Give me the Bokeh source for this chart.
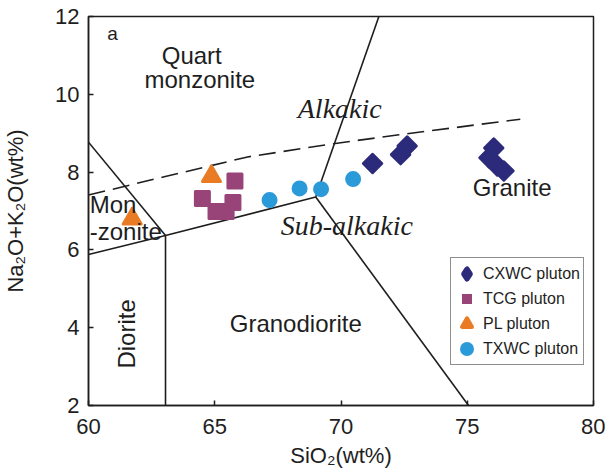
import numpy as np
from bokeh.plotting import figure
from bokeh.models import Label, Legend, LegendItem, FixedTicker, Range1d
from bokeh.embed import file_html
from bokeh.resources import INLINE

# ---------------- data ----------------
cxwc_x = [71.25, 72.36, 72.62, 76.05, 75.86, 76.19, 76.45]
cxwc_y = [8.22, 8.45, 8.67, 8.62, 8.37, 8.16, 8.03]

tcg_x = [64.51, 65.05, 65.45, 65.72, 65.80]
tcg_y = [7.32, 6.99, 6.99, 7.22, 7.77]

pl_x = [61.73, 64.87]
pl_y = [6.80, 7.89]

txwc_x = [67.17, 68.36, 69.21, 70.48]
txwc_y = [7.28, 7.58, 7.56, 7.82]

# classification boundaries
b_monz_x = [60.0, 63.05]
b_monz_y = [8.77, 6.37]
b_low_x = [60.0, 63.05, 69.0]
b_low_y = [5.88, 6.37, 7.36]
b_vert_x = [63.05, 63.05]
b_vert_y = [6.37, 2.0]
b_gd_x = [69.0, 75.05]
b_gd_y = [7.36, 2.0]
b_gr_x = [69.0, 71.5]
b_gr_y = [7.36, 12.0]
alk_x = [60.0, 63.0, 66.3, 69.7, 72.3, 77.1]
alk_y = [7.41, 7.88, 8.39, 8.73, 8.96, 9.36]

x_ticks = [60, 65, 70, 75, 80]
y_ticks = [2, 4, 6, 8, 10, 12]

SANS = "Liberation Sans"
SERIF = "Liberation Serif"
INK = "#1e1e1e"
C_CX, C_TC, C_PL, C_TX = "#2c2a7a", "#984479", "#e97b24", "#2b9ad9"

p = figure(width=605, height=470, output_backend="svg", toolbar_location=None,
           x_range=Range1d(60, 80), y_range=Range1d(2, 12),
           min_border_left=88, min_border_right=12, min_border_top=16, min_border_bottom=62)

p.xgrid.visible = False
p.ygrid.visible = False
p.outline_line_color = INK
p.outline_line_width = 1.5
p.background_fill_color = "white"
p.border_fill_color = "white"

for ax in (p.xaxis[0], p.yaxis[0]):
    ax.major_tick_in = 5
    ax.major_tick_out = 0
    ax.minor_tick_line_color = None
    ax.axis_line_color = INK
    ax.axis_line_width = 1.5
    ax.major_tick_line_color = INK
    ax.major_tick_line_width = 1.5
    ax.major_label_text_font = SANS
    ax.major_label_text_font_size = "22px"
    ax.major_label_text_color = INK
    ax.axis_label_text_font = SANS
    ax.axis_label_text_font_size = "22px"
    ax.axis_label_text_font_style = "normal"
    ax.axis_label_text_color = INK

p.xaxis.ticker = FixedTicker(ticks=x_ticks)
p.yaxis.ticker = FixedTicker(ticks=y_ticks)
p.xaxis.axis_label = "SiO₂(wt%)"
p.yaxis.axis_label = "Na₂O+K₂O(wt%)"
p.xaxis.major_label_standoff = 13
p.xaxis.axis_label_standoff = 6
p.yaxis.major_label_standoff = 9
p.yaxis.axis_label_standoff = 24

# boundaries
for bx, by in [(b_monz_x, b_monz_y), (b_low_x, b_low_y), (b_vert_x, b_vert_y),
               (b_gd_x, b_gd_y), (b_gr_x, b_gr_y)]:
    p.line(bx, by, line_color=INK, line_width=1.6)
p.line(alk_x, alk_y, line_color=INK, line_width=1.6, line_dash="17 8")

# data points
r_cx = p.scatter(cxwc_x, cxwc_y, marker="square", angle=np.pi / 4, size=13,
                 fill_color=C_CX, line_color=C_CX, line_width=3, line_join="round")
r_tc = p.scatter(tcg_x, tcg_y, marker="square", size=14,
                 fill_color=C_TC, line_color=C_TC, line_width=3, line_join="round")
r_pl = p.scatter(pl_x, pl_y, marker="triangle", size=18,
                 fill_color=C_PL, line_color=C_PL, line_width=3, line_join="round")
r_tx = p.scatter(txwc_x, txwc_y, marker="circle", size=13,
                 fill_color=C_TX, line_color=C_TX, line_width=3)

# legend-key proxies (shape of the key only; nothing is drawn in the plot area)
k_cx = p.scatter([np.nan], [np.nan], marker="diamond", size=10,
                 fill_color=C_CX, line_color=C_CX, line_width=5, line_join="round")
k_tc = p.scatter([np.nan], [np.nan], marker="square", size=10,
                 fill_color=C_TC, line_color=C_TC, line_width=0)
k_pl = p.scatter([np.nan], [np.nan], marker="triangle", size=10,
                 fill_color=C_PL, line_color=C_PL, line_width=4, line_join="round")
k_tx = p.scatter([np.nan], [np.nan], marker="circle", size=10,
                 fill_color=C_TX, line_color=C_TX, line_width=4)

# region labels
def lab(x, y, t, size="24px", font=SANS, style="normal", align="center", angle=0):
    p.add_layout(Label(x=x, y=y, text=t, text_font=font, text_font_size=size,
                       text_font_style=style, text_align=align, text_baseline="middle",
                       text_color=INK, angle=angle))

lab(60.95, 11.57, "a", size="19px")
lab(64.09, 11.0, "Quart")
lab(64.41, 10.37, "monzonite")
lab(69.95, 9.63, "Alkakic", size="28px", font=SERIF, style="italic")
lab(70.23, 6.63, "Sub-alkakic", size="28px", font=SERIF, style="italic")
lab(76.78, 7.6, "Granite")
lab(68.21, 4.12, "Granodiorite")
lab(60.05, 7.17, "Mon", align="left")
lab(60.05, 6.48, "-zonite", align="left")
lab(61.52, 3.84, "Diorite", angle=np.pi / 2)

legend = Legend(items=[LegendItem(label="CXWC pluton", renderers=[k_cx]),
                       LegendItem(label="TCG pluton", renderers=[k_tc]),
                       LegendItem(label="PL pluton", renderers=[k_pl]),
                       LegendItem(label="TXWC pluton", renderers=[k_tx])],
                location=(362, 40), glyph_width=25, glyph_height=25, label_height=25,
                spacing=0, padding=3, margin=0, label_standoff=4, label_text_font=SANS,
                label_text_font_size="16px", label_text_color=INK,
                border_line_color=INK, border_line_width=1.5,
                background_fill_color="white", background_fill_alpha=1.0)
p.add_layout(legend)

open("out.html", "w").write(file_html(p, INLINE))
